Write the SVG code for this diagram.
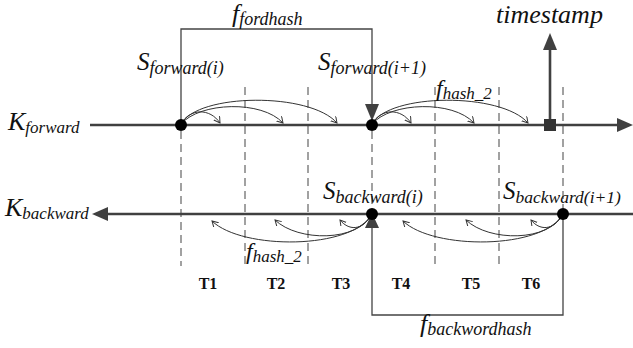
<svg xmlns="http://www.w3.org/2000/svg" width="633" height="348" viewBox="0 0 633 348">
<style>
.lbl{font-family:"Liberation Serif",serif;font-style:italic;fill:#111}
.t{font-family:"Liberation Serif",serif;font-weight:bold;font-size:16px;fill:#111;text-anchor:middle}
.dash{stroke:#555;stroke-width:1.1;stroke-dasharray:8,5;fill:none}
.main{stroke:#404040;stroke-width:2.6;fill:none}
.br{stroke:#444;stroke-width:1.3;fill:none}
.arc{stroke:#333;stroke-width:1;fill:none;marker-end:url(#oa)}
</style>
<defs>
<marker id="oa" markerWidth="8" markerHeight="8" refX="6" refY="3.5" orient="auto" markerUnits="userSpaceOnUse">
<path d="M0,0 L6,3.5 L0,7" fill="none" stroke="#333" stroke-width="1"/>
</marker>
</defs>
<g id="grid">
<line class="dash" x1="181" y1="131" x2="181" y2="266"/>
<line class="dash" x1="245" y1="87" x2="245" y2="266"/>
<line class="dash" x1="308" y1="87" x2="308" y2="266"/>
<line class="dash" x1="372" y1="131" x2="372" y2="208"/>
<line class="dash" x1="435" y1="87" x2="435" y2="266"/>
<line class="dash" x1="499" y1="87" x2="499" y2="266"/>
<line class="dash" x1="563" y1="87" x2="563" y2="208"/>
</g>
<g id="connectors">
<line class="main" x1="90" y1="125" x2="620" y2="125"/>
<polygon points="633,125 617,118 617,132" fill="#404040"/>
<line class="main" x1="105" y1="214" x2="633" y2="214"/>
<polygon points="92,214 108,207 108,221" fill="#404040"/>
<polyline class="br" points="181,125 181,29 372,29 372,106"/>
<polygon points="372,121 365,104 379,104" fill="#404040"/>
<polyline class="br" points="563,214 563,315 372,315 372,228"/>
<polygon points="372,213 365,228 379,228" fill="#404040"/>
<line stroke="#404040" stroke-width="2.6" x1="550" y1="125" x2="550" y2="48"/>
<polygon points="550,33 543,50 557,50" fill="#404040"/>
<path class="arc" d="M181,124 C190,108 210,108 220,123"/>
<path class="arc" d="M181,124 C200,102 262,100 283,123"/>
<path class="arc" d="M181,124 C198,93 310,92 337,123"/>
<path class="arc" d="M372,124 C381,108 401,108 411,123"/>
<path class="arc" d="M372,124 C391,102 453,100 474,123"/>
<path class="arc" d="M372,124 C389,93 501,92 528,123"/>
<path class="arc" d="M372,214 C362,232 348,230 340,220"/>
<path class="arc" d="M372,214 C358,242 298,242 275,220"/>
<path class="arc" d="M372,214 C352,250 242,250 212,221"/>
<path class="arc" d="M563,214 C553,232 539,230 531,220"/>
<path class="arc" d="M563,214 C549,242 489,242 466,220"/>
<path class="arc" d="M563,214 C543,250 433,250 403,221"/>
</g>
<g id="s-forward-i"><circle cx="181" cy="125" r="6" fill="#000"/>
<text class="lbl" x="137" y="70" font-size="25">S<tspan font-size="18" dy="4">forward(i)</tspan></text></g>
<g id="s-forward-i1"><circle cx="372" cy="125" r="6" fill="#000"/>
<text class="lbl" x="318" y="70" font-size="25">S<tspan font-size="18" dy="4">forward(i+1)</tspan></text></g>
<g id="timestamp"><rect x="544" y="119" width="12" height="12" fill="#333"/>
<text class="lbl" x="496" y="23" font-size="26">timestamp</text></g>
<g id="s-backward-i"><circle cx="372" cy="214" r="6" fill="#000"/>
<text class="lbl" x="323" y="199" font-size="25">S<tspan font-size="18" dy="4">backward(i)</tspan></text></g>
<g id="s-backward-i1"><circle cx="563" cy="214" r="6" fill="#000"/>
<text class="lbl" x="503" y="199" font-size="25">S<tspan font-size="17.5" dy="4">backward(i+1)</tspan></text></g>
<g id="k-forward"><text class="lbl" x="8" y="130" font-size="26">K<tspan font-size="17" dy="3">forward</tspan></text></g>
<g id="k-backward"><text class="lbl" x="5" y="216" font-size="26">K<tspan font-size="17" dy="3">backward</tspan></text></g>
<g id="f-fordhash"><text class="lbl" x="232" y="22" font-size="26">f<tspan font-size="18" dy="3">fordhash</tspan></text></g>
<g id="f-hash2-top"><text class="lbl" x="436" y="96" font-size="24">f<tspan font-size="17" dy="3">hash_2</tspan></text></g>
<g id="f-hash2-bottom"><text class="lbl" x="246" y="259" font-size="24">f<tspan font-size="17" dy="3">hash_2</tspan></text></g>
<g id="f-backwordhash"><text class="lbl" x="420" y="332" font-size="26">f<tspan font-size="18" dy="3">backwordhash</tspan></text></g>
<g id="periods">
<text class="t" x="208" y="289">T1</text>
<text class="t" x="276" y="289">T2</text>
<text class="t" x="341" y="289">T3</text>
<text class="t" x="401" y="289">T4</text>
<text class="t" x="471" y="289">T5</text>
<text class="t" x="531" y="289">T6</text>
</g>
</svg>
